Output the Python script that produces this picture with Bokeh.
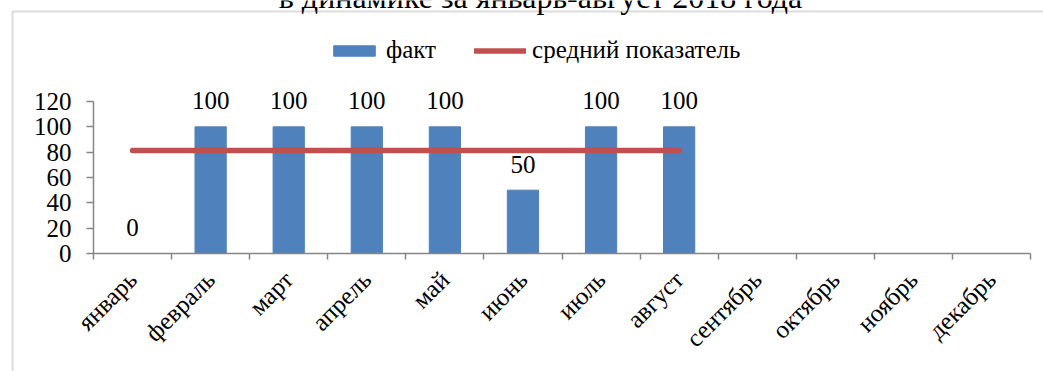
import math
from bokeh.plotting import figure
from bokeh.models import (Range1d, FixedTicker, ColumnDataSource, LabelSet, Legend,
                          LegendItem, BoxAnnotation, Label)
from bokeh.core.properties import value
from bokeh.embed import file_html
from bokeh.resources import INLINE

# ---- data ----
months = ["январь", "февраль", "март", "апрель", "май", "июнь", "июль", "август",
          "сентябрь", "октябрь", "ноябрь", "декабрь"]
fact = [0, 100, 100, 100, 100, 50, 100, 100]
average = [81.25, 81.25, 81.25, 81.25, 81.25, 81.25, 81.25, 81.25]
y_ticks = [0, 20, 40, 60, 80, 100, 120]
title_text = "в динамике за январь-август 2018 года"
legend_labels = ["факт", "средний показатель"]

FONT = "Liberation Serif"
BAR = "#4F81BD"
LINE = "#C0504D"
AXIS = "#868686"

W, H = 1043, 371
# plot area (axes box) in canvas pixels
PX0, PX1, PY_TOP, PY_BOT = 93, 1030, 101, 253
n = len(months)
ux = (PX1 - PX0) / n                      # px per category
uy = (PY_BOT - PY_TOP) / max(y_ticks)     # px per unit
x_range = Range1d(-PX0 / ux, n + (W - PX1) / ux)
y_range = Range1d(-(H - PY_BOT) / uy, max(y_ticks) + PY_TOP / uy)

p = figure(width=W, height=H, output_backend="svg", toolbar_location=None,
           x_range=x_range, y_range=y_range,
           min_border_left=0, min_border_right=0,
           min_border_top=0, min_border_bottom=0)
p.outline_line_color = None
p.xgrid.visible = False
p.ygrid.visible = False
p.background_fill_color = "white"
p.border_fill_color = "white"

xs = [i + 0.5 for i in range(len(fact))]
src = ColumnDataSource(dict(x=xs, fact=fact, avg=average,
                            label=[str(v) for v in fact]))

bars = p.vbar(x="x", top="fact", width=0.4, source=src, fill_color=BAR,
              line_color=BAR)
line = p.line(x="x", y="avg", source=src, line_width=5.5, line_color=LINE,
              line_cap="round")

labels = LabelSet(x="x", y="fact", text="label", source=src, y_offset=26,
                  text_align="center", text_baseline="middle",
                  text_font=value(FONT), text_font_size="25px", text_color="black")
p.add_layout(labels)

# x axis: labels at centers, ticks at boundaries (minor ticks)
centers = [i + 0.5 for i in range(n)]
p.xaxis.fixed_location = 0
p.xaxis.bounds = (0, n)
p.xaxis.ticker = FixedTicker(ticks=centers, minor_ticks=list(range(n + 1)))
p.xaxis.major_label_overrides = {c: m for c, m in zip(centers, months)}
p.xaxis.major_tick_line_color = None
p.xaxis.minor_tick_line_color = AXIS
p.xaxis.minor_tick_line_width = 1.5
p.xaxis.minor_tick_out = 6
p.xaxis.minor_tick_in = 0
p.xaxis.axis_line_color = AXIS
p.xaxis.axis_line_width = 1.5
p.xaxis.major_label_orientation = math.pi / 4
p.xaxis.major_label_standoff = 16
p.xaxis.major_label_text_font = FONT
p.xaxis.major_label_text_font_size = "25px"
p.xaxis.major_label_text_color = "black"

p.yaxis.fixed_location = 0
p.yaxis.ticker = FixedTicker(ticks=y_ticks)
p.yaxis.bounds = (min(y_ticks), max(y_ticks))
p.yaxis.minor_tick_line_color = None
p.yaxis.major_tick_line_color = AXIS
p.yaxis.major_tick_line_width = 1.5
p.yaxis.major_tick_out = 7
p.yaxis.major_tick_in = 0
p.yaxis.axis_line_color = AXIS
p.yaxis.axis_line_width = 1.5
p.yaxis.major_label_standoff = 15
p.yaxis.major_label_text_font = FONT
p.yaxis.major_label_text_font_size = "25px"
p.yaxis.major_label_text_color = "black"

legend = Legend(items=[LegendItem(label=legend_labels[0], renderers=[bars]),
                       LegendItem(label=legend_labels[1], renderers=[line])],
                orientation="horizontal", location=(328, H - 64),
                glyph_width=52, glyph_height=13, label_standoff=6, spacing=38,
                padding=0, margin=0, border_line_color=None,
                background_fill_alpha=0,
                label_text_font=FONT, label_text_font_size="25px",
                label_text_color="black")
p.add_layout(legend)

# chart border (partially visible frame of the embedded chart)
border = BoxAnnotation(left=12, right=W + 20, top=11, bottom=H + 20,
                       left_units="canvas", right_units="canvas",
                       top_units="canvas", bottom_units="canvas",
                       fill_alpha=0, line_color="#8C8C8C", line_width=2)
p.add_layout(border)

# chart title, only partly visible at the top edge (as in the reference)
title = Label(x=540, y=-4, x_units="canvas", y_units="canvas",
              text=title_text, text_align="center", text_baseline="alphabetic",
              text_font=FONT, text_font_size="32px", text_color="black")
p.add_layout(title)

open("out.html", "w").write(file_html(p, INLINE))
